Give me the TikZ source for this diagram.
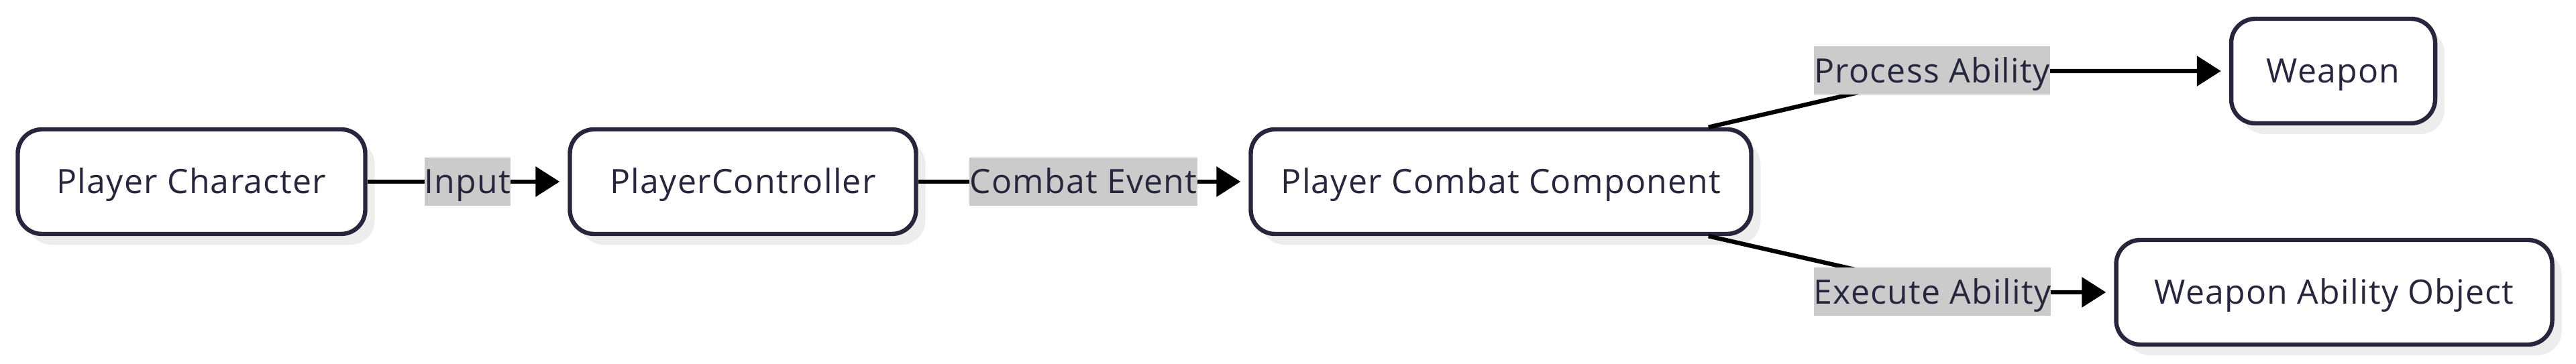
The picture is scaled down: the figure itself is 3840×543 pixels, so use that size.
\documentclass[tikz,border=0pt]{standalone}
\usepackage{fontspec}
\setmainfont{Open Sans}[LetterSpace=2.5]
\usetikzlibrary{arrows.meta,shadows,calc}
\definecolor{navy}{HTML}{27263C}
\definecolor{lblbg}{HTML}{CBCBCB}
\definecolor{shad}{HTML}{EDEDED}
\begin{document}
\begin{tikzpicture}[x=0.25pt,y=-0.25pt,
  box/.style={draw=navy, line width=1.6pt, rounded corners=9pt, fill=white,
    minimum height=39pt, inner sep=0pt, text=navy, text height=8.9pt, text depth=0pt,
    font=\fontsize{12.5}{15}\selectfont,
    drop shadow={shadow xshift=3.5pt, shadow yshift=-4pt, fill=shad, opacity=1}},
  lbl/.style={fill=lblbg, text=navy, inner sep=0pt, minimum height=18pt,
    text height=8.9pt, text depth=0pt,
    font=\fontsize{12.5}{15}\selectfont},
  edge/.style={draw=black, line width=1.6pt, -{Triangle[length=9pt,width=11pt]}, shorten >=3pt}
]
\useasboundingbox (0,0) rectangle (3840,543);
\node[box, minimum width=129.5pt] (pc) at (285.5,271) {Player Character};
\node[box, minimum width=129pt] (ctrl) at (1107.5,271) {PlayerController};
\node[box, minimum width=186.5pt] (comp) at (2237.5,271) {Player Combat Component};
\node[box, minimum width=76pt] (weapon) at (3478,106) {Weapon};
\node[box, minimum width=162.5pt] (wao) at (3479.5,436) {Weapon Ability Object};

\draw[edge] (pc.east) -- node[lbl] (l1) {Input} (ctrl.west);
\draw[edge] (ctrl.east) -- node[lbl] (l2) {Combat Event} (comp.west);

\coordinate (b1) at (2908,106);
\coordinate (b2) at (2914,436);
\draw[edge] ([xshift=-16.75pt]comp.north east) -- (b1) -- (weapon.west);
\draw[edge] ([xshift=-16.75pt]comp.south east) -- (b2) -- (wao.west);
\node[lbl] (l3) at (2880,105.5) {Process Ability};
\node[lbl] (l4) at (2880.5,435.5) {Execute Ability};
\end{tikzpicture}
\end{document}
